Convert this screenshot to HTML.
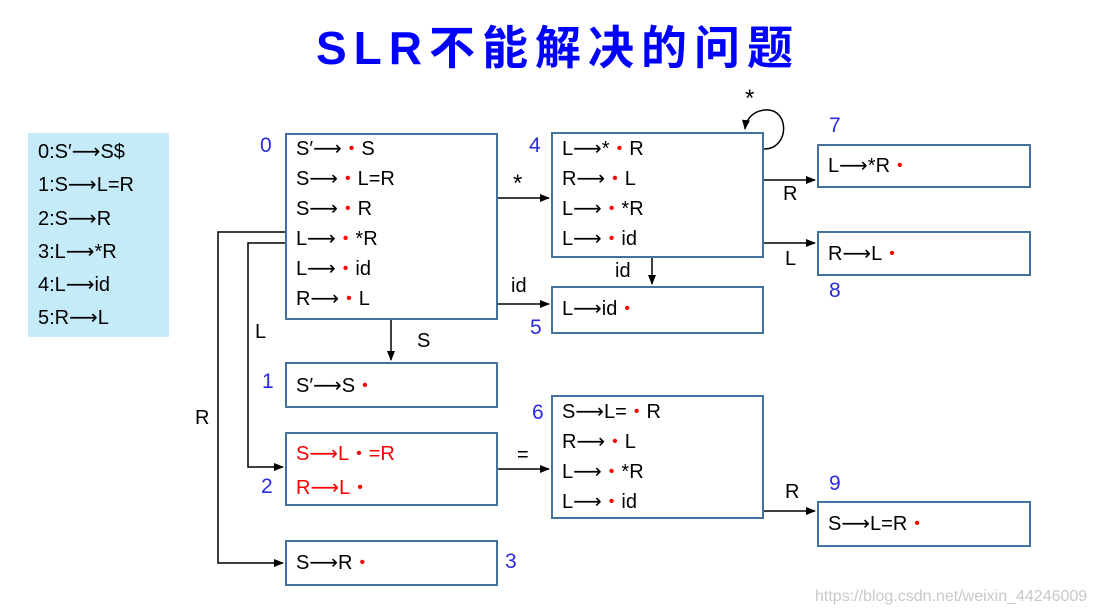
<!DOCTYPE html>
<html><head><meta charset="utf-8"><style>
body{margin:0;width:1095px;height:616px;background:#fff;position:relative;overflow:hidden;font-family:"Liberation Sans","Noto Sans CJK SC",sans-serif;}
.t{position:absolute;font-size:20px;color:#000;white-space:nowrap;line-height:24px;}
.t span{line-height:0;}
.b{position:absolute;border:2px solid #41719c;box-sizing:border-box;background:#fff;}
.n{position:absolute;font-size:21px;color:#2a2ae0;line-height:24px;}
.d{color:#f00;font-size:16px;position:relative;top:-2px;margin:0 7px;}
.ar{font-family:"DejaVu Sans",sans-serif;font-size:20px;}
.r{color:#f00;}
</style></head><body>
<div style="position:absolute;left:316px;top:18px;font-size:46px;font-weight:bold;color:#0000ff;font-family:'Liberation Sans','Noto Sans CJK SC',sans-serif;letter-spacing:7px;line-height:60px;">SLR不能解决的问题</div>

<div style="position:absolute;left:28px;top:133px;width:141px;height:204px;background:#c5ebf9;"></div>
<div class="t" style="left:38px;top:136px;line-height:33.3px;">0:S′<span class="ar">⟶</span>S$<br>1:S<span class="ar">⟶</span>L=R<br>2:S<span class="ar">⟶</span>R<br>3:L<span class="ar">⟶</span>*R<br>4:L<span class="ar">⟶</span>id<br>5:R<span class="ar">⟶</span>L</div>

<svg width="1095" height="616" style="position:absolute;left:0;top:0">
<defs><marker id="a" markerWidth="10" markerHeight="8" refX="9" refY="4" orient="auto" markerUnits="userSpaceOnUse"><path d="M0,0L10,4L0,8z" fill="#000"/></marker></defs>
<g stroke="#000" stroke-width="1.5" fill="none">
<path d="M285,232H218V563H283" marker-end="url(#a)"/>
<path d="M285,243H248V467H283" marker-end="url(#a)"/>
<path d="M497,198H549" marker-end="url(#a)"/>
<path d="M497,304H549" marker-end="url(#a)"/>
<path d="M391,319V360" marker-end="url(#a)"/>
<path d="M497,469H549" marker-end="url(#a)"/>
<path d="M763,180H815" marker-end="url(#a)"/>
<path d="M763,243H815" marker-end="url(#a)"/>
<path d="M652,257V284" marker-end="url(#a)"/>
<path d="M763,511H815" marker-end="url(#a)"/>
<path d="M764,149C790,149 790,108 765,110C752,111 746,120 745,129" marker-end="url(#a)"/>
</g></svg>

<div class="b" style="left:285px;top:133px;width:213px;height:187px"></div>
<div class="t" style="left:296px;top:134px;line-height:30px">S′<span class="ar">⟶</span><span class="d">•</span>S<br>S<span class="ar">⟶</span><span class="d">•</span>L=R<br>S<span class="ar">⟶</span><span class="d">•</span>R<br>L<span class="ar">⟶</span><span class="d">•</span>*R<br>L<span class="ar">⟶</span><span class="d">•</span>id<br>R<span class="ar">⟶</span><span class="d">•</span>L</div>

<div class="b" style="left:551px;top:132px;width:213px;height:126px"></div>
<div class="t" style="left:562px;top:134px;line-height:30px">L<span class="ar">⟶</span>*<span class="d">•</span>R<br>R<span class="ar">⟶</span><span class="d">•</span>L<br>L<span class="ar">⟶</span><span class="d">•</span>*R<br>L<span class="ar">⟶</span><span class="d">•</span>id</div>

<div class="b" style="left:817px;top:144px;width:214px;height:44px"></div>
<div class="t" style="left:828px;top:154px">L<span class="ar">⟶</span>*R<span class="d">•</span></div>
<div class="b" style="left:817px;top:231px;width:214px;height:45px"></div>
<div class="t" style="left:828px;top:242px">R<span class="ar">⟶</span>L<span class="d">•</span></div>
<div class="b" style="left:551px;top:286px;width:213px;height:48px"></div>
<div class="t" style="left:562px;top:297px">L<span class="ar">⟶</span>id<span class="d">•</span></div>
<div class="b" style="left:285px;top:362px;width:213px;height:46px"></div>
<div class="t" style="left:296px;top:374px">S′<span class="ar">⟶</span>S<span class="d">•</span></div>
<div class="b" style="left:285px;top:432px;width:213px;height:74px"></div>
<div class="t r" style="left:296px;top:437px;line-height:34px">S<span class="ar">⟶</span>L<span class="d">•</span>=R<br>R<span class="ar">⟶</span>L<span class="d">•</span></div>
<div class="b" style="left:551px;top:395px;width:213px;height:124px"></div>
<div class="t" style="left:562px;top:397px;line-height:30px">S<span class="ar">⟶</span>L=<span class="d">•</span>R<br>R<span class="ar">⟶</span><span class="d">•</span>L<br>L<span class="ar">⟶</span><span class="d">•</span>*R<br>L<span class="ar">⟶</span><span class="d">•</span>id</div>
<div class="b" style="left:817px;top:501px;width:214px;height:46px"></div>
<div class="t" style="left:828px;top:512px">S<span class="ar">⟶</span>L=R<span class="d">•</span></div>
<div class="b" style="left:285px;top:540px;width:213px;height:46px"></div>
<div class="t" style="left:296px;top:551px">S<span class="ar">⟶</span>R<span class="d">•</span></div>

<div class="t" style="left:513px;top:172px;font-size:24px">*</div>
<div class="t" style="left:511px;top:274px">id</div>
<div class="t" style="left:417px;top:329px">S</div>
<div class="t" style="left:517px;top:443px">=</div>
<div class="t" style="left:783px;top:182px">R</div>
<div class="t" style="left:785px;top:247px">L</div>
<div class="t" style="left:615px;top:259px">id</div>
<div class="t" style="left:785px;top:480px">R</div>
<div class="t" style="left:745px;top:87px;font-size:24px">*</div>
<div class="t" style="left:255px;top:320px">L</div>
<div class="t" style="left:195px;top:406px">R</div>

<div class="n" style="left:260px;top:134px">0</div>
<div class="n" style="left:529px;top:134px">4</div>
<div class="n" style="left:829px;top:114px">7</div>
<div class="n" style="left:829px;top:279px">8</div>
<div class="n" style="left:530px;top:316px">5</div>
<div class="n" style="left:262px;top:370px">1</div>
<div class="n" style="left:261px;top:475px">2</div>
<div class="n" style="left:532px;top:401px">6</div>
<div class="n" style="left:829px;top:472px">9</div>
<div class="n" style="left:505px;top:550px">3</div>

<div style="position:absolute;left:815px;top:588px;font-size:16px;color:#c8c8c8;white-space:nowrap;">https://blog.csdn.net/weixin_44246009</div>
</body></html>
